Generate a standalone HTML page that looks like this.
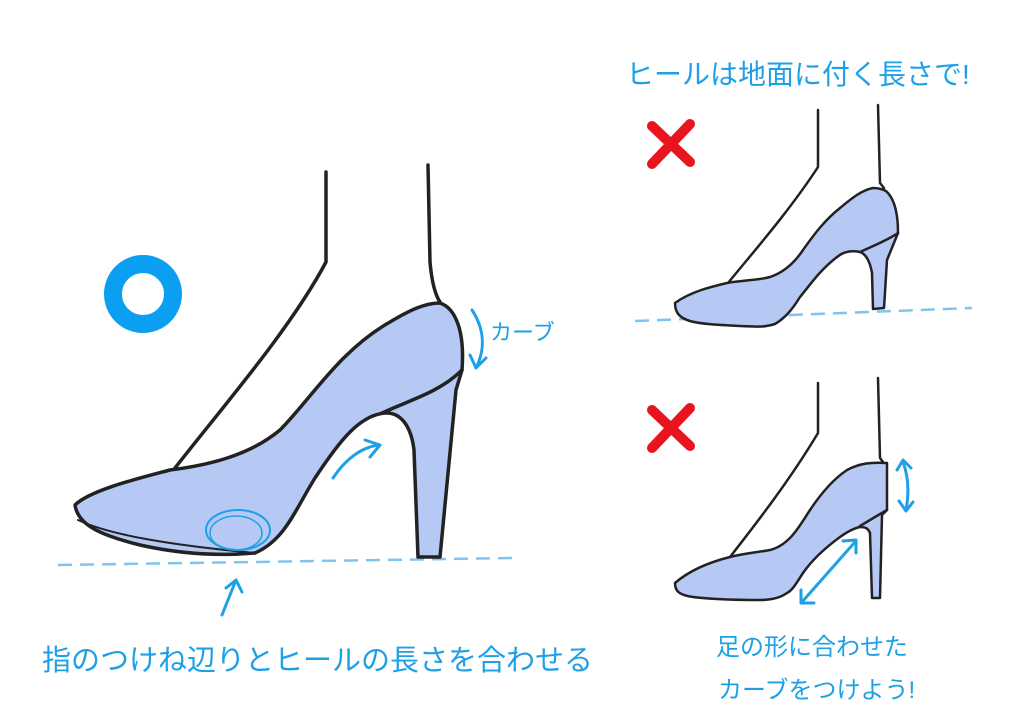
<!DOCTYPE html>
<html><head><meta charset="utf-8"><style>
html,body{margin:0;padding:0;background:#fff;}
svg{display:block}
text{font-family:"Liberation Sans","Noto Sans CJK JP",sans-serif;fill:#1ea0e6;}
</style></head><body>
<svg width="1024" height="724" viewBox="0 0 1024 724" xmlns="http://www.w3.org/2000/svg">
<rect width="1024" height="724" fill="#fff"/>
<circle cx="143" cy="294" r="30" fill="none" stroke="#0a9ff0" stroke-width="18"/>
<g stroke="#e8141e" stroke-width="10" stroke-linecap="round">
<line x1="652" y1="126" x2="690" y2="162"/><line x1="690" y1="124" x2="652" y2="164"/>
<line x1="652" y1="410" x2="690" y2="446"/><line x1="690" y1="408" x2="652" y2="448"/>
</g>
<g stroke="#7fc4ee" stroke-width="2.5" stroke-dasharray="14,8" fill="none">
<path d="M58,565 L512,558"/>
<path d="M635,321 L972,308"/>
</g>
<!-- Main shoe -->
<g stroke="#222" stroke-width="3.5" stroke-linejoin="round" stroke-linecap="round" fill="none">
<path d="M326,172 L326,262 C290,330 220,410 175,468"/>
<path d="M428,165 L430,262 C432,285 436,296 440,302"/>
<path d="M75,505 C90,490 140,478 170,470 C210,465 250,455 280,430 C310,400 340,350 390,322 C410,310 425,303 440,303 C455,308 465,330 462,370 L456,390 L440,557 L418,557 L414,450 C411,425 400,412 385,413 C360,415 340,440 315,478 C295,510 285,540 255,553 C220,556 180,554 140,545 C100,535 78,525 75,505 Z" fill="#b6c9f4"/>
<path d="M382,413 C410,400 440,392 462,370"/>
<path d="M78,520 C110,535 170,545 255,553" stroke-width="2"/>
</g>
<ellipse cx="238" cy="530" rx="32" ry="20" fill="none" stroke="#1ea0e6" stroke-width="2"/>
<ellipse cx="236" cy="533" rx="26" ry="17" fill="none" stroke="#1ea0e6" stroke-width="1.5"/>
<!-- top right shoe -->
<g stroke="#222" stroke-width="2.5" stroke-linejoin="round" stroke-linecap="round" fill="none">
<path d="M818,110 L818,167 C790,210 755,250 728,283"/>
<path d="M878,105 L880,183 L884,188"/>
<path d="M675,303 C690,292 710,287 727,283 C745,280 760,280 770,277 C785,272 795,262 803,250 C815,233 825,220 840,208 C852,198 862,190 873,188 C880,188 885,190 887,192 C895,200 898,215 898,233 L887,260 L884,308 L873,309 L872,273 C870,262 866,254 860,252 C850,250 843,252 837,257 C820,270 810,285 800,297 C792,310 785,318 775,324 C765,327 760,327 740,326 C720,325 700,324 690,321 C680,318 675,313 675,303 Z" fill="#b6c9f4"/>
<path d="M860,252 C875,245 888,240 898,233"/>
</g>
<!-- bottom right shoe -->
<g stroke="#222" stroke-width="2.5" stroke-linejoin="round" stroke-linecap="round" fill="none">
<path d="M818,383 L818,433 C790,480 755,525 730,557"/>
<path d="M878,378 L880,458 L883,462"/>
<path d="M675,583 C690,570 710,562 730,557 C745,553 760,552 770,550 C790,545 800,525 810,510 C822,492 835,478 847,470 C860,463 872,462 887,463 L887,510 L882,515 L880,598 L872,598 L870,533 C868,528 865,527 860,527 C855,528 847,532 840,537 C825,548 812,560 803,573 C797,582 793,590 787,593 C780,598 770,600 760,600 C735,600 710,599 693,597 C680,595 675,592 675,583 Z" fill="#b6c9f4"/>
<path d="M860,526 C870,520 880,514 887,510"/>
</g>
<!-- arrows -->
<g stroke="#1ea0e6" stroke-width="3" fill="none" stroke-linecap="round" stroke-linejoin="round">
<path d="M333,478 C345,460 360,448 378,445 M365,440 L380,445 L370,457"/>
<path d="M472,310 C485,330 485,350 476,368 M470,355 L476,368 L486,358"/>
<path d="M222,615 L236,580 M226,588 L236,580 L242,592"/>
<path d="M903,462 C909,478 909,494 906,510 M897,470 L903,460 L911,468 M899,501 L906,511 L913,502"/>
<path d="M802,602 L855,542 M801,590 L801,603 L814,603 M843,541 L856,540 L856,553"/>
</g>
<text x="626" y="84" font-size="28">ヒールは地面に付く長さで!</text>
<text x="490" y="340" font-size="22">カーブ</text>
<text x="42" y="670" font-size="29">指のつけね辺りとヒールの長さを合わせる</text>
<text x="716" y="655" font-size="24">足の形に合わせた</text>
<text x="718" y="698" font-size="24">カーブをつけよう!</text>
</svg>
</body></html>
